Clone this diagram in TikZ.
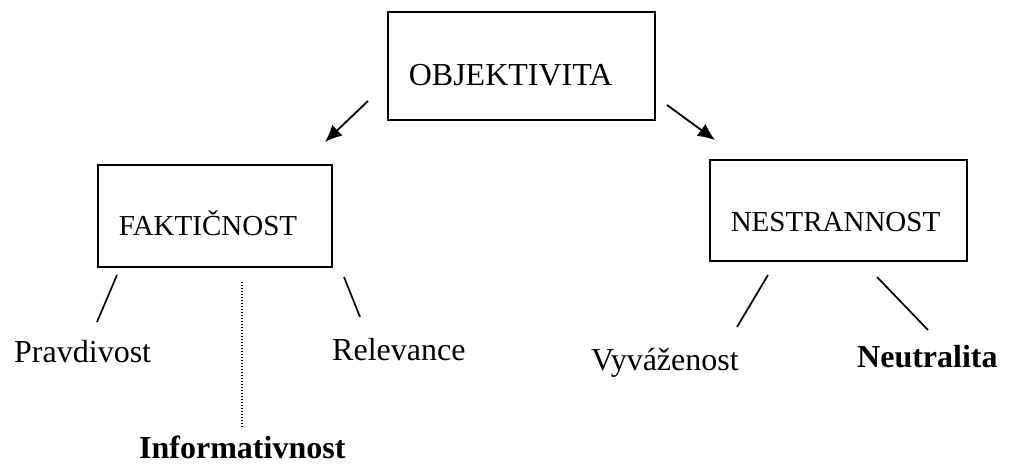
\documentclass[tikz,border=0pt]{standalone}
\usepackage{fontspec}
\setmainfont{Liberation Serif}
\usepackage{tikz}
\usetikzlibrary{arrows.meta}

\tikzset{
  box/.style={draw, black, line width=1.6pt, inner sep=0pt, align=left, anchor=north west},
  word/.style={inner sep=0pt, anchor=base west, font=\fontsize{32}{38}\selectfont},
  stem/.style={black, line width=1.7pt},
  arr/.style={-{Latex[length=17pt,width=15pt]}, black, line width=1.8pt},
}

\begin{document}
\begin{tikzpicture}[x=1pt, y=-1pt]

\useasboundingbox (0,0) rectangle (1010,465);

%% the three boxes
\path
(387,11) node[box, text width=267pt, text height=74pt, text depth=34pt, font=\fontsize{32}{38}\selectfont](objekt) {\hspace*{21pt}OBJEKTIVITA}
(97,164) node[box, text width=234pt, text height=71pt, text depth=31pt, font=\fontsize{29}{35}\selectfont](fakt) {\hspace*{21pt}FAKTIČNOST}
(709,159) node[box, text width=257pt, text height=72pt, text depth=29pt, font=\fontsize{29}{35}\selectfont](nestr) {\hspace*{21pt}NESTRANNOST};

%% the words below
\path
(14,362) node[word](pravd) {Pravdivost}
(332,360) node[word](relev) {Relevance}
(139,458) node[word, font=\fontsize{32}{38}\selectfont\bfseries](inform) {Informativnost}
(591,370) node[word](vyvaz) {Vyváženost}
(857,367) node[word, font=\fontsize{32}{38}\selectfont\bfseries](neutr) {Neutralita};

%% ends of the connectors
\coordinate (objektleft) at (368,101);
\coordinate (objektright) at (667,105);
\coordinate (fakttop) at (325,142);
\coordinate (nestrtop) at (715,140);
\coordinate (faktsw) at (117,275);
\coordinate (pravdtop) at (97,322);
\coordinate (faktmid) at (242,282);
\coordinate (informtop) at (242,428);
\coordinate (faktse) at (344,277);
\coordinate (relevtop) at (360,317);
\coordinate (nestrsw) at (768,275);
\coordinate (vyvaztop) at (737,327);
\coordinate (nestrse) at (877,277);
\coordinate (neutrtop) at (928,330);

%% arrows from the top box
\draw[arr] (objektleft) -- (fakttop);
\draw[arr] (objektright) -- (nestrtop);

%% strokes to the words
\draw[stem] (faktsw) -- (pravdtop);
\draw[black, line width=1.1pt, dash pattern=on 1.1pt off 1.9pt] (faktmid) -- (informtop);
\draw[stem] (faktse) -- (relevtop);
\draw[stem] (nestrsw) -- (vyvaztop);
\draw[stem] (nestrse) -- (neutrtop);

\end{tikzpicture}
\end{document}
